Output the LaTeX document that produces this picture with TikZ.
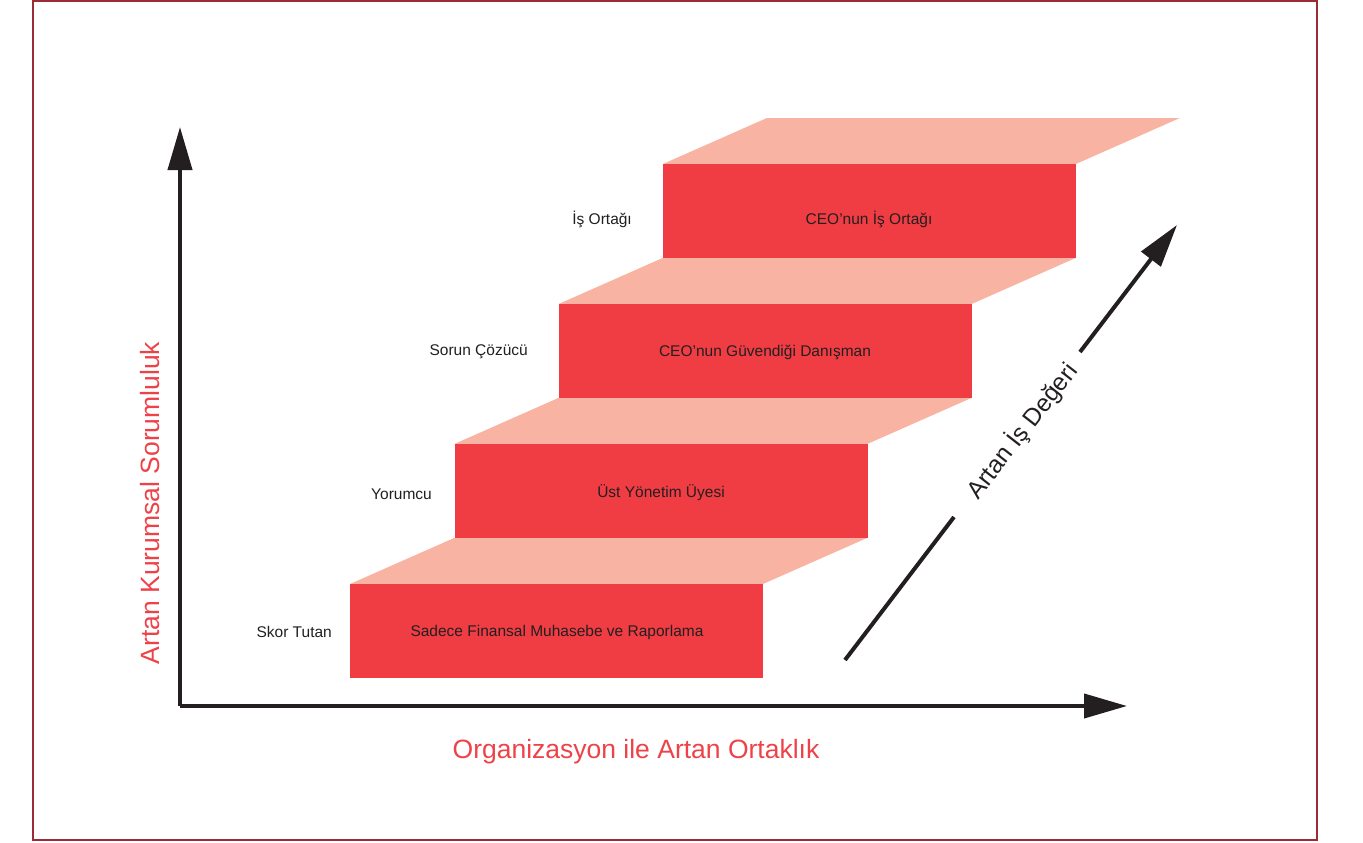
\documentclass[tikz,border=0pt]{standalone}
\usepackage{fontspec}
\setmainfont{Liberation Sans}
\usetikzlibrary{arrows.meta}
\definecolor{stepfront}{HTML}{EF3D43}
\definecolor{steptop}{HTML}{F8B3A2}
\definecolor{framered}{HTML}{9B2C35}
\definecolor{axislabel}{HTML}{EE4249}
\definecolor{inktext}{HTML}{231F20}
\tikzset{
  front/.style={draw=none, fill=stepfront, minimum width=413pt, minimum height=93.5pt, inner sep=0pt, anchor=north west},
  topface/.style={fill=steptop, draw=none},
  steptext/.style={text=inktext, font=\fontsize{15.5}{18}\selectfont, inner sep=0pt},
  rolelabel/.style={steptext, anchor=east},
  axisline/.style={draw=inktext, line width=4pt, -{Triangle[length=43pt,width=24pt]}},
  bigtext/.style={font=\fontsize{26.5}{30}\selectfont, inner sep=0pt},
}
\begin{document}
\begin{tikzpicture}[x=1pt,y=-1pt]
\useasboundingbox (0,0) rectangle (1363,843);
\draw[framered, line width=2.5pt] (33,1) rectangle (1317,840);
% top faces
\foreach \i in {0,1,2,3}{
  \pgfmathsetmacro{\L}{350+104.3*\i}
  \pgfmathsetmacro{\T}{584-140*\i}
  \fill[steptop] (\L,\T) -- ({\L+413},\T) -- ({\L+413+104},{\T-46}) -- ({\L+104},{\T-46}) -- cycle;
}
% front faces
\node[front] (s1) at (350,584) {};
\node[front] (s2) at (454.3,444) {};
\node[front] (s3) at (558.6,304) {};
\node[front] (s4) at (662.9,164) {};
% front texts
\node[steptext] (t1) at (557,632) {Sadece Finansal Muhasebe ve Raporlama};
\node[steptext] (t2) at (661,493) {Üst Yönetim Üyesi};
\node[steptext] (t3) at (765,352) {CEO’nun Güvendiği Danışman};
\node[steptext] (t4) at (869,219) {CEO’nun İş Ortağı};
% role labels
\node[rolelabel] (r1) at (332,632) {Skor Tutan};
\node[rolelabel] (r2) at (432,494) {Yorumcu};
\node[rolelabel] (r3) at (528,352) {Sorun Çözücü};
\node[rolelabel] (r4) at (632,219) {İş Ortağı};
% axes
\coordinate (origin) at (180,706);
\coordinate (ytip) at (180,127);
\coordinate (xtip) at (1127,706);
\draw[axisline] (origin) -- (ytip);
\draw[axisline] (origin) -- (xtip);
\node[bigtext, text=axislabel] (xlab) at (636,752) {Organizasyon ile Artan Ortaklık};
\node[bigtext, text=axislabel, rotate=90] (ylab) at (150,503) {Artan Kurumsal Sorumluluk};
% diagonal arrow
\coordinate (d0) at (845,660);
\coordinate (d1) at (954,517);
\coordinate (d2) at (1080,352);
\coordinate (d3) at (1177,225);
\draw[draw=inktext, line width=4pt] (d0) -- (d1);
\draw[axisline] (d2) -- (d3);
\node[font=\fontsize{24.5}{28}\selectfont, inner sep=0pt, text=inktext, rotate=52] (dlab) at (1022,431) {Artan İş Değeri};
\end{tikzpicture}
\end{document}
